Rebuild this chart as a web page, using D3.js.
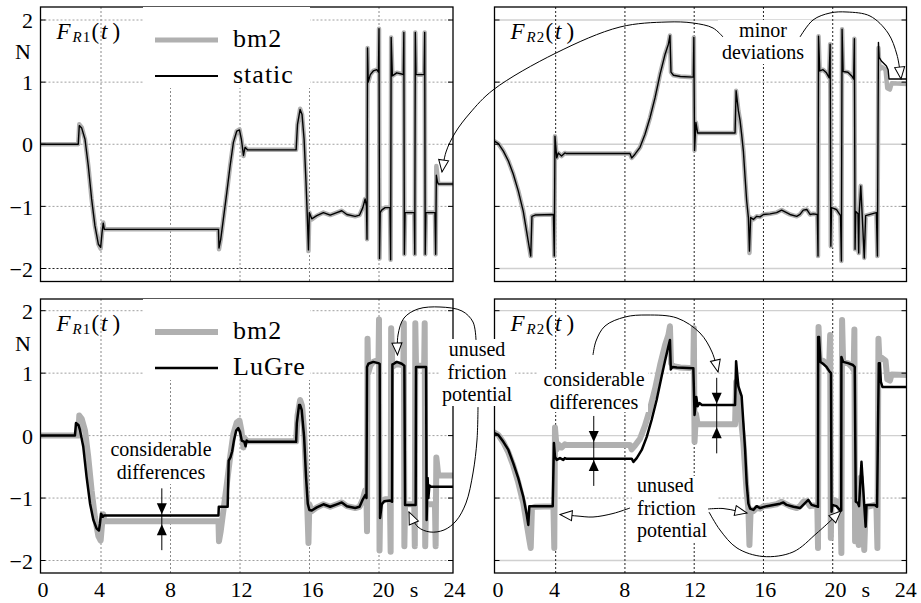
<!DOCTYPE html>
<html><head><meta charset="utf-8">
<script src="https://cdn.jsdelivr.net/npm/d3@7"></script>
<style>
body{margin:0;background:#fff;}
svg{display:block;font-family:"Liberation Serif","Times New Roman",serif;}
</style></head><body>
<svg id="chart" width="921" height="603"></svg>
<script>
// ---------- data (time in s, force in N) ----------
const timeTicks = [0,4,8,12,16,20,24];
const gridTimes = [4,8,12,16,20];
const forceTicks = [-2,-1,0,1,2];
const legendTop = ["bm2","static"];
const legendBottom = ["bm2","LuGre"];

const bm2R1 = [
[0,0],[2.69,0],[2.75,0.32],[2.89,0.27],[3.08,0.08],[3.27,-0.35],[3.46,-0.88],[3.65,-1.31],[3.85,-1.61],[3.98,-1.68],[4.06,-1.42],[4.13,-1.26],[4.19,-1.37],
[10.76,-1.37],[10.79,-1.69],[10.89,-1.53],[11.04,-1.21],[11.24,-0.78],[11.43,-0.35],[11.62,0.03],[11.81,0.21],[11.97,0.24],[12.08,0.08],[12.2,-0.19],[12.29,-0.05],[12.43,-0.09],
[15.23,-0.09],[15.31,0.32],[15.46,0.57],[15.57,0.48],[15.69,0.08],[15.8,-0.62],[15.88,-1.21],[15.94,-1.72],[15.99,-1.1],[16.13,-1.21],[16.42,-1.15],[16.8,-1.1],[17.19,-1.14],[17.57,-1.1],[17.86,-1.07],[18.15,-1.13],[18.63,-1.16],[18.88,-1.14],[19.07,-1.02],[19.2,-0.88],[19.28,-1.0],
[19.31,-1.53],[19.34,1.55],[19.38,1.0],[19.5,1.12],[19.67,1.18],[19.87,1.2],[19.97,1.16],
[20.0,1.86],[20.03,-1.84],[20.07,-1.1],[20.15,-1.06],[20.35,-1.02],[20.63,-1.02],
[20.67,-1.86],[20.7,1.72],[20.77,1.1],[21.02,1.15],[21.31,1.13],[21.4,1.12],
[21.43,1.8],[21.46,-1.77],[21.5,-1.1],[22.03,-1.1],
[22.06,-1.77],[22.09,1.8],[22.13,1.12],[22.6,1.12],
[22.63,1.8],[22.66,-1.77],[22.7,-1.1],[23.22,-1.1],
[23.26,-1.77],[23.3,-0.35],[23.34,-0.45],[23.41,-0.64],[24.3,-0.64]];

const staticR1 = [
[0,0],[2.69,0],[2.75,0.3],[2.89,0.26],[3.08,0.08],[3.27,-0.35],[3.46,-0.88],[3.65,-1.31],[3.85,-1.61],[3.98,-1.66],[4.06,-1.42],[4.13,-1.27],[4.19,-1.37],
[10.76,-1.37],[10.79,-1.67],[10.89,-1.53],[11.04,-1.21],[11.24,-0.78],[11.43,-0.35],[11.62,0.03],[11.81,0.21],[11.97,0.23],[12.08,0.08],[12.2,-0.18],[12.29,-0.05],[12.43,-0.09],
[15.23,-0.09],[15.31,0.32],[15.46,0.56],[15.57,0.48],[15.69,0.08],[15.8,-0.62],[15.88,-1.21],[15.94,-1.7],[15.99,-1.1],[16.13,-1.2],[16.42,-1.15],[16.8,-1.1],[17.19,-1.14],[17.57,-1.1],[17.86,-1.07],[18.15,-1.13],[18.63,-1.16],[18.88,-1.14],[19.07,-1.02],[19.2,-0.88],[19.28,-1.0],
[19.31,-1.53],[19.34,1.55],[19.38,1.0],[19.5,1.12],[19.67,1.18],[19.87,1.2],[19.97,1.16],
[20.0,1.86],[20.03,-1.84],[20.07,-1.1],[20.15,-1.06],[20.35,-1.02],[20.63,-1.02],
[20.67,-1.86],[20.7,1.72],[20.77,1.1],[21.02,1.15],[21.31,1.13],[21.4,1.12],
[21.43,1.8],[21.46,-1.77],[21.5,-1.1],[22.03,-1.1],
[22.06,-1.77],[22.09,1.8],[22.13,1.12],[22.6,1.12],
[22.63,1.8],[22.66,-1.77],[22.7,-1.1],[23.22,-1.1],
[23.26,-1.77],[23.3,-0.5],[23.36,-0.6],[23.41,-0.64],[24.3,-0.64]];

const lugreR1 = [
[0,0],[2.5,0],[2.56,0.2],[2.7,0.17],[2.79,0.09],[2.98,-0.18],[3.17,-0.66],[3.37,-1.09],[3.56,-1.35],[3.75,-1.49],[3.88,-1.52],[3.94,-1.41],[4.0,-1.25],[4.1,-1.3],[4.17,-1.28],
[10.76,-1.28],[10.78,-1.14],[11.29,-1.14],[11.35,-0.4],[11.45,-0.35],[11.55,-0.25],[11.65,-0.08],[11.78,0.08],[11.9,0.12],[12.0,0.06],[12.1,-0.08],[12.25,-0.1],[12.32,-0.17],[12.38,-0.08],[12.48,-0.1],
[15.23,-0.1],[15.27,0.2],[15.4,0.49],[15.46,0.49],[15.55,0.41],[15.69,-0.02],[15.8,-0.66],[15.9,-1.09],[15.99,-1.19],[16.13,-1.2],[16.42,-1.15],[16.8,-1.1],[17.19,-1.14],[17.57,-1.1],[17.86,-1.07],[18.15,-1.13],[18.63,-1.16],[18.88,-1.14],[19.07,-1.02],[19.22,-0.95],[19.28,-1.0],
[19.31,1.1],[19.39,1.15],[19.67,1.18],[19.96,1.16],[20.04,1.15],[20.06,-1.32],[20.16,-1.1],[20.3,-1.05],[20.63,-1.04],[20.75,-1.06],
[20.77,1.14],[20.85,1.15],[21.02,1.18],[21.31,1.15],[21.46,1.12],[21.5,-1.11],[22.11,-1.11],
[22.13,1.1],[22.71,1.1],[22.74,-1.35],[22.8,-0.68],[22.84,-1.0],[22.9,-0.8],[23.0,-0.82],[24.3,-0.82]];

const bm2R2 = [
[0,0.07],[0.46,0.05],[0.69,0.01],[0.98,-0.11],[1.27,-0.27],[1.55,-0.48],[1.84,-0.75],[2.13,-1.08],[2.32,-1.4],[2.48,-1.67],[2.56,-1.8],[2.63,-1.16],[2.81,-1.14],[3.87,-1.13],
[3.92,-1.8],[3.96,0.13],[4.06,-0.22],[4.15,-0.14],[4.34,-0.19],[4.53,-0.14],[4.63,-0.15],
[8.29,-0.15],[8.39,-0.22],[8.58,-0.16],[8.87,-0.05],[9.16,0.16],[9.45,0.43],[9.74,0.75],[10.03,1.13],[10.32,1.45],[10.51,1.61],[10.6,1.75],[10.66,1.16],[10.8,1.11],[11.2,1.09],[11.95,1.08],
[11.98,1.72],[12.02,-0.1],[12.1,0.35],[12.2,0.18],
[14.36,0.18],[14.42,0.86],[14.55,0.54],[14.65,0.38],[14.74,0.16],[14.84,-0.11],[14.94,-0.54],[15.03,-0.91],[15.13,-1.18],[15.19,-1.75],[15.26,-1.18],[15.42,-1.21],[15.61,-1.16],[15.8,-1.17],[16.0,-1.13],[16.38,-1.12],[16.76,-1.1],[17.05,-1.06],[17.25,-1.09],[17.53,-1.13],[17.92,-1.16],[18.11,-1.13],[18.3,-1.06],[18.5,-1.05],[18.69,-1.13],[18.88,-1.12],[19.11,-1.13],
[19.15,-1.8],[19.18,1.74],[19.25,1.18],[19.44,1.2],[19.64,1.15],[19.79,1.07],
[19.85,1.61],[19.89,-1.64],[19.93,-1.02],[20.21,-1.05],[20.45,-1.15],
[20.5,-1.88],[20.54,1.85],[20.6,1.17],[20.88,1.16],[21.1,1.1],[21.21,1.05],
[21.25,1.7],[21.29,-1.69],[21.33,-1.08],[21.46,-1.12],[21.5,-1.75],[21.53,-1.1],[21.62,-0.67],[21.82,-1.83],[21.9,-1.15],[22.52,-1.1],
[22.58,-1.8],[22.64,1.55],[22.7,1.2],[22.8,1.25],[23.05,1.2],[23.15,0.9],[23.3,0.88],[23.4,0.98],[24.3,0.97]];

const staticR2 = [
[0,0.07],[0.46,0.05],[0.69,0.01],[0.98,-0.11],[1.27,-0.27],[1.55,-0.48],[1.84,-0.75],[2.13,-1.08],[2.32,-1.4],[2.48,-1.67],[2.56,-1.8],[2.63,-1.16],[2.81,-1.14],[3.87,-1.13],
[3.92,-1.8],[3.96,0.13],[4.06,-0.22],[4.15,-0.14],[4.34,-0.19],[4.53,-0.14],[4.63,-0.15],
[8.29,-0.15],[8.39,-0.22],[8.58,-0.16],[8.87,-0.05],[9.16,0.16],[9.45,0.43],[9.74,0.75],[10.03,1.13],[10.32,1.45],[10.51,1.61],[10.6,1.75],[10.66,1.16],[10.8,1.11],[11.2,1.09],[11.95,1.08],
[11.98,1.72],[12.02,-0.1],[12.1,0.35],[12.2,0.18],
[14.36,0.18],[14.42,0.86],[14.55,0.54],[14.65,0.38],[14.74,0.16],[14.84,-0.11],[14.94,-0.54],[15.03,-0.91],[15.13,-1.18],[15.19,-1.72],[15.26,-1.18],[15.42,-1.21],[15.61,-1.16],[15.8,-1.17],[16.0,-1.13],[16.38,-1.12],[16.76,-1.1],[17.05,-1.06],[17.25,-1.09],[17.53,-1.13],[17.92,-1.16],[18.11,-1.13],[18.3,-1.06],[18.5,-1.05],[18.69,-1.13],[18.88,-1.12],[19.11,-1.13],
[19.15,-1.8],[19.18,1.74],[19.25,1.18],[19.44,1.2],[19.64,1.15],[19.79,1.07],
[19.85,1.61],[19.89,-1.64],[19.93,-1.02],[20.21,-1.05],[20.45,-1.15],
[20.5,-1.88],[20.54,1.85],[20.6,1.17],[20.88,1.16],[21.1,1.1],[21.21,1.05],
[21.25,1.7],[21.29,-1.69],[21.33,-1.08],[21.46,-1.12],[21.5,-1.75],[21.53,-1.1],[21.62,-0.67],[21.82,-1.83],[21.9,-1.15],[22.52,-1.1],
[22.58,-1.8],[22.64,1.64],[22.68,1.4],[22.81,1.34],[23.1,1.26],[23.2,1.2],[23.25,1.05],[24.3,1.05]];

const lugreR2 = [
[0,0.05],[0.46,0.04],[0.69,0.01],[0.98,-0.1],[1.27,-0.23],[1.55,-0.44],[1.84,-0.68],[2.13,-0.98],[2.32,-1.25],[2.42,-1.43],[2.48,-1.13],[2.6,-1.13],[3.83,-1.13],
[3.9,-0.12],[3.96,-0.34],[4.06,-0.39],[4.25,-0.36],[4.44,-0.39],[4.53,-0.36],[4.6,-0.37],
[8.39,-0.37],[8.49,-0.42],[8.68,-0.36],[8.97,-0.23],[9.26,-0.02],[9.54,0.25],[9.83,0.57],[10.12,0.95],[10.31,1.19],[10.51,1.43],[10.6,1.53],[10.65,1.06],[10.75,1.1],[11.0,1.09],[11.95,1.08],
[12.02,0.33],[12.12,0.62],[12.2,0.47],[12.3,0.52],[12.45,0.49],
[14.36,0.49],[14.42,1.19],[14.55,0.79],[14.74,0.63],[14.84,0.2],[14.94,-0.23],[15.03,-0.76],[15.13,-1.09],[15.23,-1.17],[15.42,-1.19],[15.61,-1.13],[15.8,-1.16],[16.19,-1.13],[16.57,-1.11],[16.96,-1.09],[17.15,-1.07],[17.34,-1.11],[17.73,-1.14],[18.11,-1.16],[18.4,-1.08],[18.59,-1.03],[18.78,-1.11],[19.15,-1.14],
[19.16,1.58],[19.21,1.58],[19.29,1.18],[19.44,1.15],[19.64,1.1],[19.83,1.02],[19.9,1.0],
[19.93,-1.22],[19.98,-1.11],[20.21,-1.13],[20.4,-1.19],[20.49,-1.2],
[20.5,1.26],[20.6,1.18],[20.88,1.16],[21.17,1.13],[21.27,1.1],
[21.33,-1.06],[21.45,-1.08],[21.52,-1.13],[21.66,-0.42],[21.9,-1.46],[21.95,-1.11],[22.43,-1.11],[22.56,-1.14],
[22.66,1.16],[22.72,1.16],[22.78,0.86],[22.87,0.78],[24.3,0.78]];

// ---------- layout ----------
const FONT = "'Liberation Serif','Times New Roman',serif";
const svg = d3.select("#chart");
const defs = svg.append("defs");
defs.append("marker").attr("id","openArrow")
  .attr("viewBox","-1 -6 14 12").attr("refX",12).attr("refY",0)
  .attr("markerWidth",14).attr("markerHeight",12)
  .attr("markerUnits","userSpaceOnUse").attr("orient","auto")
  .append("path").attr("d","M0,-5L12,0L0,5Z")
  .attr("fill","#fff").attr("stroke","#000").attr("stroke-width",1);

const cols = [
  {x0:40.5, x1:453, grid:[31.5,448.5], label:[28,454], zeroLabel:43, vGrid:"#8a8a8a"},
  {x0:494.5, x1:906.5, grid:[486.4,902], label:[483.75,905.25], zeroLabel:498, vGrid:"#222"}
];
const rows = [
  {y0:7, y1:281.5, range:[268.5,20]},
  {y0:299, y1:573, range:[560.5,310.7]}
];
const panels = [
  {c:0,r:0,sub:"R1",gray:bm2R1,black:staticR1,gw:4.5,bw:1.4,legend:legendTop},
  {c:1,r:0,sub:"R2",gray:bm2R2,black:staticR2,gw:4.5,bw:1.4},
  {c:0,r:1,sub:"R1",gray:bm2R1,black:lugreR1,gw:6,bw:2.5,legend:legendBottom},
  {c:1,r:1,sub:"R2",gray:bm2R2,black:lugreR2,gw:6,bw:2.5}
];
const GRAY = "#b0b0b0";

function valueAt(arr, t){
  const i = d3.bisector(d=>d[0]).left(arr, t);
  const a = arr[Math.max(0,i-1)], b = arr[Math.min(arr.length-1,i)];
  if (b[0]===a[0]) return a[1];
  return a[1] + (b[1]-a[1])*(t-a[0])/(b[0]-a[0]);
}

panels.forEach((p,k)=>{
  const col = cols[p.c], row = rows[p.r];
  p.x = d3.scaleLinear([0,24], col.grid);
  p.y = d3.scaleLinear([-2,2], row.range);
  const g = svg.append("g");
  const cid = "clip"+k;
  defs.append("clipPath").attr("id",cid).append("rect")
    .attr("x",col.x0).attr("y",row.y0).attr("width",col.x1-col.x0).attr("height",row.y1-row.y0);
  const solid = d => p.c===1 && d!==1 && d!==-1;
  g.selectAll(".hg").data(forceTicks).join("line")
    .attr("x1",col.x0).attr("x2",col.x1).attr("y1",d=>p.y(d)).attr("y2",d=>p.y(d))
    .attr("stroke", d=> solid(d) ? "#d0d0d0" : (p.c===0 && p.r===0 && d===-2 ? "#222" : "#a0a0a0"))
    .attr("stroke-width", d=> solid(d) ? 1.3 : 1)
    .attr("stroke-dasharray", d=> solid(d) ? null : "2,2");
  g.selectAll(".vg").data(gridTimes).join("line")
    .attr("x1",d=>p.x(d)).attr("x2",d=>p.x(d)).attr("y1",row.y0).attr("y2",row.y1)
    .attr("stroke",col.vGrid).attr("stroke-width",1).attr("stroke-dasharray","2,2");
  const line = d3.line().x(d=>p.x(d[0])).y(d=>p.y(d[1]));
  g.append("path").attr("d",line(p.gray)).attr("clip-path",`url(#${cid})`)
    .attr("fill","none").attr("stroke",GRAY).attr("stroke-width",p.gw)
    .attr("stroke-linejoin","round").attr("stroke-linecap","round");
  g.append("path").attr("d",line(p.black)).attr("clip-path",`url(#${cid})`)
    .attr("fill","none").attr("stroke","#000").attr("stroke-width",p.bw)
    .attr("stroke-linejoin","round");
  g.append("rect").attr("x",col.x0).attr("y",row.y0).attr("width",col.x1-col.x0).attr("height",row.y1-row.y0)
    .attr("fill","none").attr("stroke","#000").attr("stroke-width",1.3);
  g.selectAll(".tl").data(forceTicks).join("line")
    .attr("x1",col.x0).attr("x2",col.x0+5).attr("y1",d=>p.y(d)).attr("y2",d=>p.y(d)).attr("stroke","#000");
  g.selectAll(".tr").data(forceTicks).join("line")
    .attr("x1",col.x1-5).attr("x2",col.x1).attr("y1",d=>p.y(d)).attr("y2",d=>p.y(d)).attr("stroke","#000");
  if (p.c===0){
    const ya = d3.axisLeft(p.y).tickValues(forceTicks).tickSize(0).tickPadding(0)
      .tickFormat(d=> d<0 ? "\u2212"+Math.abs(d) : String(d));
    const ag = svg.append("g").attr("transform","translate(33,0)").call(ya);
    ag.select(".domain").remove();
    ag.attr("font-family",FONT);
    ag.selectAll("text").attr("font-family",FONT).attr("font-size",22).attr("fill","#000").attr("dy","0.35em");
    svg.append("text").attr("x",23).attr("y",row.y0+52).attr("text-anchor","middle")
      .attr("font-family",FONT).attr("font-size",22).text("N");
  }
  if (p.r===1){
    const lx = d3.scaleLinear([0,24], col.label);
    const xa = d3.axisBottom(lx).tickValues(timeTicks).tickSize(0).tickPadding(0).tickFormat(d3.format("d"));
    const ag = svg.append("g").attr("transform","translate(0,597)").call(xa);
    ag.select(".domain").remove();
    ag.attr("font-family",FONT);
    ag.selectAll("text").attr("font-family",FONT).attr("font-size",22).attr("fill","#000").attr("dy",0);
    ag.selectAll(".tick").filter(d=>d===0).attr("transform",`translate(${col.zeroLabel},0)`);
    svg.append("text").attr("x",lx(21.75)).attr("y",597).attr("text-anchor","middle")
      .attr("font-family",FONT).attr("font-size",22).text("s");
  }
});

// ---------- white boxes for legend & annotations ----------
const boxes = [
  [143,7,167,81],[143,299,167,81],
  [718,20,92,44],
  [105,441,113,43],[440,339,75,67],
  [537,370,111,42],[632,476,86,67]
];
svg.selectAll(".box").data(boxes).join("rect")
  .attr("x",d=>d[0]).attr("y",d=>d[1]).attr("width",d=>d[2]).attr("height",d=>d[3]).attr("fill","#fff");

// ---------- legends & titles ----------
panels.forEach(p=>{
  const col = cols[p.c], row = rows[p.r];
  if (p.legend){
    svg.append("line").attr("x1",155).attr("x2",218).attr("y1",row.y0+33).attr("y2",row.y0+33)
      .attr("stroke",GRAY).attr("stroke-width",p.r===0?5:6);
    svg.append("line").attr("x1",155).attr("x2",218).attr("y1",row.y0+69).attr("y2",row.y0+69)
      .attr("stroke","#000").attr("stroke-width",p.r===0?2:2.6);
    svg.append("text").attr("x",233).attr("y",row.y0+40).attr("font-family",FONT).attr("font-size",26).attr("letter-spacing",1).text(p.legend[0]);
    svg.append("text").attr("x",233).attr("y",row.y0+76).attr("font-family",FONT).attr("font-size",26).attr("letter-spacing",1).text(p.legend[1]);
  }
  const bx = col.x0 + 16, by = row.y0 + 32;
  const t = svg.append("text").attr("font-family",FONT).attr("font-size",23);
  t.append("tspan").attr("x",bx).attr("y",by).attr("font-style","italic").text("F");
  t.append("tspan").attr("x",bx+16).attr("y",by+3).attr("font-style","italic").attr("font-size",15).attr("letter-spacing",1).text(p.sub[0]);
  t.append("tspan").attr("font-size",15).attr("y",by+3).text(p.sub[1]);
  t.append("tspan").attr("x",bx+35).attr("y",by).text("(");
  t.append("tspan").attr("x",bx+44.5).attr("y",by).attr("font-style","italic").text("t");
  t.append("tspan").attr("x",bx+56).attr("y",by).text(")");
});

// ---------- annotation texts ----------
function multi(x, ys, lines, anchor){
  lines.forEach((s,i)=> svg.append("text").attr("x",x).attr("y",ys[i]).attr("text-anchor",anchor||"middle")
    .attr("font-family",FONT).attr("font-size",20).text(s));
}
multi(763,[36.5,59],["minor","deviations"]);
multi(161,[456,478.5],["considerable","differences"]);
multi(477,[356,378.5,401],["unused","friction","potential"]);
multi(594,[386,408.5],["considerable","differences"]);
multi(637,[492,514.5,537],["unused","friction","potential"],"start");

// ---------- curved arrows ----------
const curve = d3.line().curve(d3.curveCatmullRom.alpha(0.5));
const arrows = [
  [[723,37],[713,28],[693,23],[667,22],[620,27],[556,53],[493,90],[470,113],[455,133],[446,152],[442,172]],
  [[800,37],[813,20],[830,13],[847,12],[870,16],[888,33],[897,55],[901,79]],
  [[476,340],[473,322],[462,311],[440,307],[418,309],[404,318],[398,335],[397.5,355]],
  [[478,407],[477,440],[473,473],[466,503],[456,521],[444,530],[430,532],[418,527],[409,512]],
  [[593,355],[596,341],[605,326],[625,317],[647,315],[677,318],[700,333],[712,352],[718,372]],
  [[630,508],[613,513.5],[593,517],[577,516],[560,514.5]],
  [[708,509],[723,508.5],[737,511],[747,513]],
  [[709,512],[720,530],[737,548],[763,556.5],[793,552],[817,533],[841,511]]
];
svg.selectAll(".arr").data(arrows).join("path")
  .attr("d",d=>curve(d)).attr("fill","none").attr("stroke","#000").attr("stroke-width",1)
  .attr("marker-end","url(#openArrow)");

// ---------- "considerable differences" double arrows ----------
function diffMarker(p, t, upperArr, upperHW, lowerArr, lowerHW){
  const x = p.x(t);
  const tipD = p.y(valueAt(upperArr,t)) - upperHW;
  const tipU = p.y(valueAt(lowerArr,t)) + lowerHW;
  svg.append("line").attr("x1",x).attr("x2",x).attr("y1",tipD-26).attr("y2",tipU+26)
    .attr("stroke","#000").attr("stroke-width",1);
  svg.append("path").attr("d",`M${x-5},${tipD-11}L${x+5},${tipD-11}L${x},${tipD}Z`).attr("fill","#000");
  svg.append("path").attr("d",`M${x-5},${tipU+11}L${x+5},${tipU+11}L${x},${tipU}Z`).attr("fill","#000");
}
diffMarker(panels[2], 7.5, lugreR1, 1.2, bm2R1, 3);
diffMarker(panels[3], 6.2, bm2R2, 3, lugreR2, 1.2);
diffMarker(panels[3], 13.3, lugreR2, 1.2, bm2R2, 3);
</script>
</body></html>
